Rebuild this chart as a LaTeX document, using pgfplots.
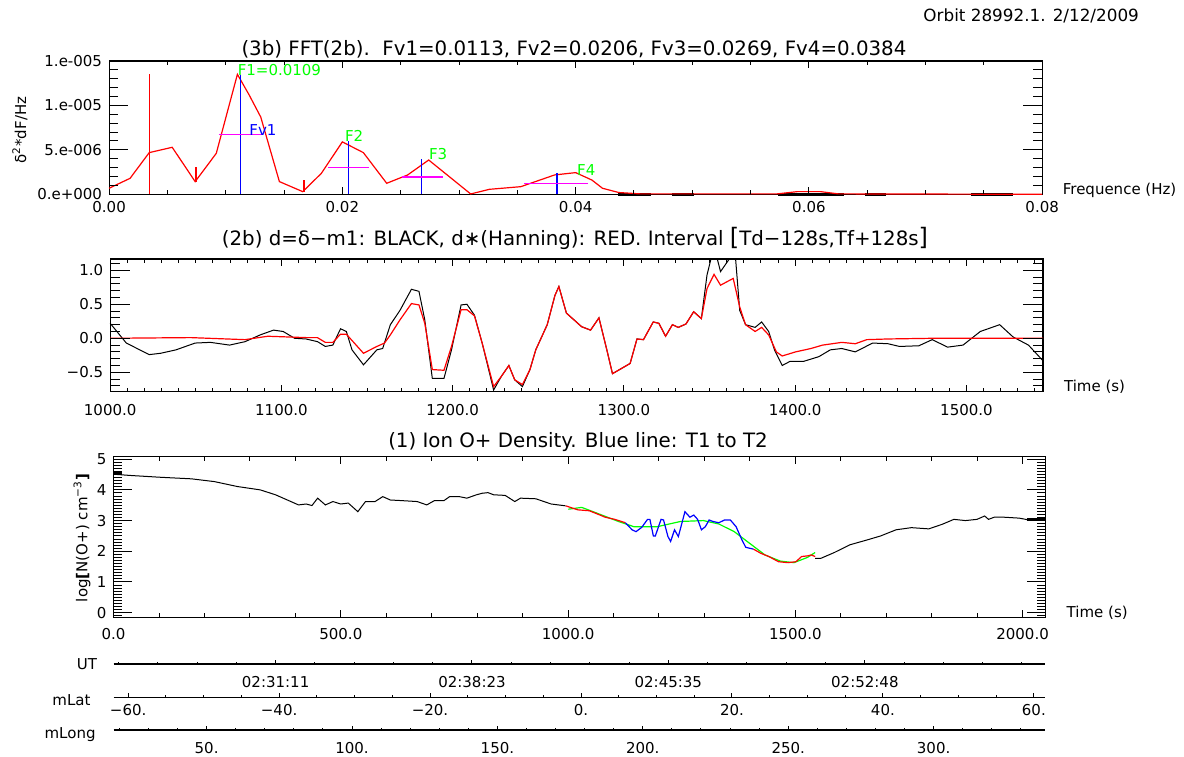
\documentclass[border=0pt]{standalone}
\usepackage{pgfplots}
\pgfplotsset{compat=1.18}
\usepackage{fontspec}
\setmainfont{DejaVu Sans}
\definecolor{idlred}{RGB}{255,0,0}
\definecolor{idlgreen}{RGB}{0,255,0}
\definecolor{idlblue}{RGB}{0,0,255}
\definecolor{idlmag}{RGB}{255,0,255}
\newcommand{\tfont}{\fontsize{9.9}{11}\selectfont}
\newcommand{\sfont}{\fontsize{7.5}{9}\selectfont}
% tick marks drawn on the frame: #1 list, #2 length, #3 a y value inside the range
\newcommand{\xtk}[3]{\pgfplotsinvokeforeach{#1}{%
  \draw[line width=0.5pt] ({axis cs:##1,#3}|-{rel axis cs:0,0}) -- ++(0pt,#2);
  \draw[line width=0.5pt] ({axis cs:##1,#3}|-{rel axis cs:0,1}) -- ++(0pt,-#2);}}
% #1 list, #2 length, #3 an x value inside the range
\newcommand{\ytk}[3]{\pgfplotsinvokeforeach{#1}{%
  \draw[line width=0.5pt] ({rel axis cs:0,0}|-{axis cs:#3,##1}) -- ++(#2,0pt);
  \draw[line width=0.5pt] ({rel axis cs:1,0}|-{axis cs:#3,##1}) -- ++(-#2,0pt);}}
\pgfplotsset{
  panel/.style={scale only axis, enlargelimits=false, tick align=inside, clip=false,
    axis line style={line width=0.6pt}, tick style={line width=0.5pt, black},
    tick label style={font=\sfont}, scaled ticks=false, anchor=south west,
    major tick length=0pt, minor tick length=0pt},
  infoaxis/.style={scale only axis, anchor=south west, width=465.85pt, height=2pt,
    ymin=0, ymax=1, axis y line=none, axis x line*=bottom, tick align=inside,
    axis line style={line width=0.6pt}, tick style={line width=0.5pt, black},
    major tick length=2.2pt, minor tick length=1.2pt,
    tick label style={font=\sfont}, clip=false},
}
\begin{document}
\begin{tikzpicture}
\useasboundingbox (0,0) rectangle (592pt,-378pt);
\node[anchor=east, font=\fontsize{8.4}{9}\selectfont] at (573pt,-8pt) {Orbit 28992.1. 2/12/2009};
\node[font=\tfont] at (287pt,-24.5pt) {(3b) FFT(2b).\ \ Fv1=0.0113, Fv2=0.0206, Fv3=0.0269, Fv4=0.0384};
\node[font=\tfont] at (287.5pt,-119.2pt) {(2b) d=δ−m1: BLACK, d∗(Hanning): RED. Interval {\large[}Td−128s,Tf+128s{\large]}};
\node[font=\tfont] at (289pt,-220.8pt) {(1) Ion O+ Density. Blue line: T1 to T2};
\node[anchor=west, font=\sfont] at (527.9pt,-95pt) {Frequence (Hz)};
\node[anchor=west, font=\sfont] at (528.5pt,-193.3pt) {Time (s)};
\node[anchor=west, font=\sfont] at (529.8pt,-306.3pt) {Time (s)};
\node[rotate=90, font=\sfont] at (10pt,-65pt) {δ\textsuperscript{2}*dF/Hz};
\node[rotate=90, font=\sfont] at (41pt,-269pt) {log\textbf{[}N(O+) cm\textsuperscript{−3}\textbf{]}};
\node[anchor=east, font=\sfont] at (52pt,-332pt) {UT};
\node[anchor=east, font=\sfont] at (48.8pt,-350pt) {mLat};
\node[anchor=east, font=\sfont] at (51.3pt,-367.5pt) {mLong};

% ---------- top panel: FFT ----------
\begin{axis}[panel, at={(54.55pt,-97.15pt)}, width=466.55pt, height=66.65pt,
  xmin=0, xmax=0.08, ymin=0, ymax=1.5e-5,
  xtick={0,0.02,0.04,0.06,0.08}, xticklabels={0.00,0.02,0.04,0.06,0.08},
  ytick={0,5e-6,1e-5,1.5e-5}, yticklabels={0.e+000,5.e-006,1.e-005,1.e-005}]
\addplot[black, line width=1.5pt] coordinates {(0.04367,0)(0.04649,0)};
\addplot[black, line width=1.5pt] coordinates {(0.04829,0)(0.05011,0)};
\addplot[black, line width=1.5pt] coordinates {(0.05738,0)(0.0630,0)};
\addplot[black, line width=1.5pt] coordinates {(0.0648,0)(0.0666,0)};
\addplot[black, line width=1.5pt] coordinates {(0.0739,0)(0.0775,0)};
\addplot[idlred, line width=0.6pt] coordinates {
(0,0.68e-6)(0.0018,1.8e-6)(0.00344,4.69e-6)(0.00541,5.29e-6)(0.00738,1.43e-6)
(0.00919,4.61e-6)(0.0110,13.5e-6)(0.0120,11.2e-6)(0.0130,8.7e-6)(0.0146,1.43e-6)
(0.0166,0.3e-6)(0.0182,2.36e-6)(0.0200,5.9e-6)(0.0218,4.69e-6)(0.0238,1.24e-6)
(0.0256,2.18e-6)(0.0274,3.86e-6)(0.0310,0.04e-6)(0.0326,0.56e-6)(0.0353,0.86e-6)
(0.0382,2.18e-6)(0.0400,2.44e-6)(0.0414,1.6e-6)(0.0423,0.68e-6)(0.0437,0.2e-6)
(0.0455,0.05e-6)(0.0573,0.05e-6)(0.0590,0.3e-6)(0.0610,0.3e-6)(0.0625,0.05e-6)(0.08,0.0)};
\addplot[idlred, line width=0.7pt] coordinates {(0.00344,0)(0.00344,13.5e-6)};
\addplot[idlred, line width=0.7pt] coordinates {(0.00745,1.43e-6)(0.00745,3.1e-6)};
\addplot[idlred, line width=0.7pt] coordinates {(0.0167,0.3e-6)(0.0167,1.6e-6)};
\addplot[idlblue, line width=0.7pt] coordinates {(0.01125,0)(0.01125,13.4e-6)};
\addplot[idlblue, line width=0.7pt] coordinates {(0.0205,0)(0.0205,6.0e-6)};
\addplot[idlblue, line width=0.7pt] coordinates {(0.0268,0)(0.0268,3.94e-6)};
\addplot[idlblue, line width=0.7pt] coordinates {(0.0384,0)(0.0384,2.44e-6)};
\addplot[idlmag, line width=0.7pt] coordinates {(0.00942,6.75e-6)(0.0131,6.75e-6)};
\addplot[idlmag, line width=0.7pt] coordinates {(0.01877,3.0e-6)(0.02224,3.0e-6)};
\addplot[idlmag, line width=0.7pt] coordinates {(0.0251,1.95e-6)(0.0286,1.95e-6)};
\addplot[idlmag, line width=0.7pt] coordinates {(0.0356,1.24e-6)(0.0411,1.24e-6)};
\node[anchor=west, inner sep=0pt, text=idlgreen, font=\sfont] at (axis cs:0.0110,14e-6) {F1=0.0109};
\node[anchor=west, inner sep=0pt, text=idlblue, font=\sfont] at (axis cs:0.0120,7.24e-6) {Fv1};
\node[anchor=west, inner sep=0pt, text=idlgreen, font=\sfont] at (axis cs:0.0202,6.56e-6) {F2};
\node[anchor=west, inner sep=0pt, text=idlgreen, font=\sfont] at (axis cs:0.0274,4.54e-6) {F3};
\node[anchor=west, inner sep=0pt, text=idlgreen, font=\sfont] at (axis cs:0.0401,2.74e-6) {F4};
\xtk{0.02,0.04,0.06}{3.5pt}{1e-6}
\xtk{0.005,0.01,0.015,0.025,0.03,0.035,0.045,0.05,0.055,0.065,0.07,0.075}{2pt}{1e-6}
\ytk{5e-6,1e-5}{9.5pt}{0.01}
\ytk{1e-6,2e-6,3e-6,4e-6,6e-6,7e-6,8e-6,9e-6,11e-6,12e-6,13e-6,14e-6}{4.5pt}{0.01}
\end{axis}

% ---------- middle panel ----------
\begin{axis}[panel, at={(55.1pt,-195.85pt)}, width=466.4pt, height=66.35pt,
  xmin=1000, xmax=1544.7, ymin=-0.785, ymax=1.165,
  xtick={1000,1100,1200,1300,1400,1500},
  xticklabels={1000.0,1100.0,1200.0,1300.0,1400.0,1500.0},
  ytick={-0.5,0,0.5,1}, yticklabels={−0.5,0.0,0.5,1.0},
  xticklabel style={yshift=-3pt}]
\addplot[black, line width=0.5pt] coordinates {
(1000,0.22)(1009.4,-0.07)(1022.8,-0.24)(1029.5,-0.22)(1038.4,-0.17)(1049.6,-0.07)
(1058.5,-0.06)(1069.7,-0.10)(1078.7,-0.05)(1087.6,0.05)(1095.4,0.12)(1101,0.10)
(1107.7,0.0)(1114.4,-0.01)(1121.1,-0.05)(1125.6,-0.12)(1130,-0.10)(1134.5,0.14)
(1137.9,0.10)(1141.2,-0.17)(1147.9,-0.39)(1155.7,-0.17)(1159.1,-0.15)(1163.6,0.20)
(1169.2,0.41)(1175.9,0.72)(1180.3,0.69)(1183.7,0.27)(1188.1,-0.59)(1194.9,-0.59)
(1199.3,-0.17)(1204.9,0.49)(1208.3,0.50)(1212.7,0.34)(1217.2,-0.07)(1223.9,-0.76)
(1228.4,-0.56)(1232.8,-0.40)(1236.2,-0.61)(1240.7,-0.71)(1245.1,-0.46)(1248.5,-0.17)
(1255.2,0.20)(1259.7,0.63)(1262,0.76)(1266.4,0.37)(1275.3,0.17)(1280.5,0.12)
(1285.4,0.30)(1290,-0.17)(1293.3,-0.52)(1303.6,-0.37)(1307.6,-0.01)(1311.4,-0.02)
(1317.1,0.24)(1320.4,0.22)(1324.3,0.03)(1328.3,0.20)(1331.7,0.16)(1336.2,0.21)
(1340.7,0.39)(1345.2,0.29)(1348.5,0.93)(1350.8,1.165)(1354.5,1.165)(1356.4,0.98)
(1361.5,1.165)(1365.2,1.165)
(1367.6,0.41)(1371,0.20)(1376.6,0.16)(1380.4,0.24)(1384.5,0.10)(1387.9,-0.17)
(1392.4,-0.40)(1396.9,-0.34)(1404.8,-0.34)(1413.8,-0.27)(1420.5,-0.17)(1427.2,-0.15)
(1435.1,-0.20)(1445.2,-0.07)(1454.2,-0.08)(1460.9,-0.12)(1472.2,-0.11)(1480,-0.02)
(1489,-0.13)(1498,-0.10)(1508.1,0.10)(1519.4,0.20)(1527.2,0.02)(1536.2,-0.10)(1544.7,-0.33)};
\addplot[idlred, line width=0.6pt] coordinates {
(1000,0)(1047,0.01)(1078.7,-0.02)(1092,0.03)(1114.4,0.01)(1121,0.01)(1125.6,-0.06)
(1130,-0.06)(1134.5,0.06)(1137.9,0.06)(1147.9,-0.22)(1155.7,-0.12)(1160.2,-0.07)
(1163.6,0.05)(1169.2,0.27)(1175.9,0.51)(1180.3,0.49)(1183.7,0.22)(1188.1,-0.46)
(1194.9,-0.47)(1199.3,-0.12)(1204.9,0.42)(1208.3,0.42)(1212.7,0.33)(1217.2,-0.07)
(1223.9,-0.71)(1228.4,-0.56)(1232.8,-0.40)(1236.2,-0.61)(1240.7,-0.68)(1245.1,-0.46)
(1248.5,-0.17)(1255.2,0.20)(1259.7,0.63)(1262,0.76)(1266.4,0.37)(1275.3,0.17)
(1280.5,0.12)(1285.4,0.30)(1290,-0.17)(1293.3,-0.52)(1303.6,-0.37)(1307.6,-0.01)
(1311.4,-0.02)(1317.1,0.24)(1320.4,0.22)(1324.3,0.03)(1328.3,0.20)(1331.7,0.16)
(1336.2,0.21)(1340.7,0.39)(1345.2,0.29)(1348.5,0.73)(1352.6,0.94)(1356.4,0.78)
(1363.8,0.88)(1367.6,0.46)(1371,0.20)(1376.6,0.10)(1380.4,0.16)(1384.5,0.05)
(1389,-0.20)(1392.4,-0.26)(1400.2,-0.20)(1409.2,-0.15)(1416,-0.10)(1427.2,-0.06)
(1435.1,-0.08)(1441.8,-0.02)(1454.2,-0.01)(1480,0)(1544.7,0)};
\xtk{1100,1200,1300,1400,1500}{3.5pt}{0}
\xtk{1010,1020,1030,1040,1050,1060,1070,1080,1090,1110,1120,1130,1140,1150,1160,1170,1180,1190,1210,1220,1230,1240,1250,1260,1270,1280,1290,1310,1320,1330,1340,1350,1360,1370,1380,1390,1410,1420,1430,1440,1450,1460,1470,1480,1490,1510,1520,1530,1540}{2pt}{0}
\ytk{-0.5,0,0.5,1}{10pt}{1200}
\ytk{-0.7,-0.6,-0.4,-0.3,-0.2,-0.1,0.1,0.2,0.3,0.4,0.6,0.7,0.8,0.9,1.1}{5pt}{1200}
\end{axis}

% ---------- bottom panel ----------
\begin{axis}[panel, at={(56.8pt,-308.65pt)}, width=465.85pt, height=80.3pt,
  xmin=0, xmax=2050, ymin=-0.15, ymax=5.08,
  xtick={0,500,1000,1500,2000}, xticklabels={0.0,500.0,1000.0,1500.0,2000.0},
  ytick={0,1,2,3,4,5}, yticklabels={0,1,2,3,4,5},
  xticklabel style={yshift=-2pt}]
\addplot[black, line width=0.5pt] coordinates {
(0,4.51)(36.3,4.47)(103.7,4.41)(171,4.36)(221.6,4.27)(272,4.11)(322.6,4.0)(356.3,3.84)
(406.9,3.51)(423.6,3.54)(436.4,3.49)(449,3.73)(465.9,3.51)(482.6,3.62)(499.6,3.54)
(516.3,3.57)(524.7,3.46)(537.4,3.29)(554.2,3.62)(575.3,3.62)(592.2,3.78)(609,3.67)
(634.2,3.65)(667.9,3.62)(689,3.51)(705.8,3.65)(726.8,3.65)(739.4,3.78)(760.5,3.78)
(777.3,3.73)(798.4,3.84)(811.1,3.89)(823.7,3.91)(836.3,3.84)(861.6,3.82)(882.7,3.62)
(895.3,3.73)(929,3.71)(962.6,3.54)(994.7,3.48)};
\addplot[black, line width=0.5pt] coordinates {
(1543.6,1.77)(1556,1.77)(1585.8,1.96)(1619.7,2.21)(1658,2.37)(1687.7,2.50)(1721.6,2.70)
(1755.5,2.77)(1793.6,2.73)(1823.3,2.88)(1848.9,3.04)(1874.2,3.00)(1899.7,3.04)
(1916.6,3.15)(1925,3.04)(1937.7,3.11)(1958.9,3.11)(1992.7,3.08)(2014,3.02)(2050,3.02)};
\addplot[black, line width=1.5pt] coordinates {(0,4.52)(18,4.52)};
\addplot[black, line width=1.5pt] coordinates {(2010,3.02)(2050,3.02)};
\addplot[idlgreen, line width=0.6pt] coordinates {
(1000.5,3.37)(1030,3.43)(1060.3,3.26)(1111,2.97)(1145,2.80)(1195.8,2.80)(1247,2.97)
(1297.7,3.00)(1331.6,2.89)(1365.5,2.64)(1399.4,2.26)(1433.3,1.88)(1467.2,1.68)
(1496.9,1.63)(1526.6,1.80)(1543.6,1.96)};
\addplot[idlred, line width=0.6pt] coordinates {
(994.7,3.48)(1021.6,3.35)(1046.8,3.32)(1070.4,3.18)(1081.4,3.11)(1102.7,3.04)(1126,2.93)};
\addplot[idlred, line width=0.6pt] coordinates {
(1407.8,2.07)(1424.7,1.93)(1441.7,1.83)(1463,1.66)(1484.2,1.63)(1501.1,1.66)
(1513.9,1.83)(1526.6,1.85)(1535,1.88)(1543.6,1.83)};
\addplot[idlblue, line width=0.6pt] coordinates {
(1126,2.93)(1140.8,2.70)(1149.4,2.64)(1162,2.78)(1174.8,3.04)(1180,3.04)(1187.6,2.50)
(1192,2.50)(1204.5,3.04)(1210,3.02)(1219.7,2.48)(1225.6,2.32)(1234.2,2.70)(1242.6,2.48)
(1257.1,3.29)(1268.1,3.11)(1276.5,3.18)(1285,3.04)(1293.4,2.70)(1301.9,2.80)
(1310.3,3.02)(1318.8,2.97)(1331.6,2.93)(1344.4,3.02)(1357,3.02)(1369.7,2.80)
(1382.5,2.37)(1390.9,2.13)(1407.8,2.07)};
\xtk{500,1000,1500,2000}{3.5pt}{1}
\xtk{100,200,300,400,600,700,800,900,1100,1200,1300,1400,1600,1700,1800,1900}{2pt}{1}
\ytk{0,1,2,3,4,5}{9pt}{1000}
\ytk{-0.1,0.1,0.2,0.3,0.4,0.5,0.6,0.7,0.8,0.9,1.1,1.2,1.3,1.4,1.5,1.6,1.7,1.8,1.9,2.1,2.2,2.3,2.4,2.5,2.6,2.7,2.8,2.9,3.1,3.2,3.3,3.4,3.5,3.6,3.7,3.8,3.9,4.1,4.2,4.3,4.4,4.5,4.6,4.7,4.8,4.9,5.0}{4.4pt}{1000}
\end{axis}

% ---------- info axes ----------
\begin{axis}[infoaxis, at={(56.8pt,-332pt)}, xmin=0, xmax=2050,
  xtick={356.5,788.5,1220.5,1653}, xticklabels={02:31:11,02:38:23,02:45:35,02:52:48},
  minor xtick={10.9,97.3,183.7,270.1,442.9,529.3,615.7,702.1,874.9,961.3,1047.7,1134.1,1306.9,1393.3,1479.7,1566.1,1739.4,1825.8,1912.2,1998.6},
  xticklabel style={yshift=-2.5pt}]
\end{axis}
\begin{axis}[infoaxis, at={(56.8pt,-348.65pt)}, xmin=-61.93, xmax=61.52,
  xtick={-60,-40,-20,0,20,40,60}, xticklabels={−60.,−40.,−20.,0.,20.,40.,60.},
  minor xtick={-60,-55,...,60}]
\end{axis}
\begin{axis}[infoaxis, at={(56.8pt,-365pt)}, xmin=18.02, xmax=338.4,
  xtick={50,100,150,200,250,300}, xticklabels={50.,100.,150.,200.,250.,300.},
  minor xtick={20,30,...,330},
  xticklabel style={yshift=-2.7pt}]
\end{axis}
\end{tikzpicture}
\end{document}
